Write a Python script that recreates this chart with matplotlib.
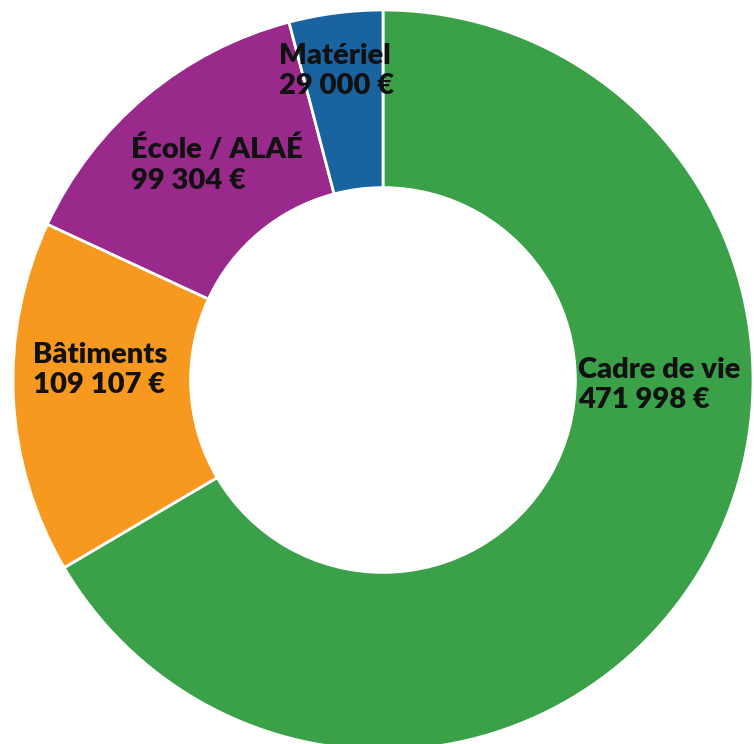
import matplotlib.pyplot as plt

labels = ["Cadre de vie", "Bâtiments", "École / ALAÉ", "Matériel"]
values = [471998, 109107, 99304, 29000]
colors = ["#3aa149", "#f8991f", "#992a8c", "#1863a0"]

# label anchor (left edge, middle of the two lines), in pie units
label_pos = [(0.527, -0.013), (-0.946, 0.028), (-0.681, 0.581), (-0.281, 0.835)]


def fmt(v):
    return f"{v:,}".replace(",", " ") + " €"


fig = plt.figure(figsize=(7.54, 7.44), dpi=100)
ax = fig.add_axes([0, 0, 1, 1])

ax.pie(values, colors=colors, startangle=90, counterclock=False,
       radius=1.0, wedgeprops=dict(width=0.48, edgecolor="white", linewidth=2))

for name, v, (x, y) in zip(labels, values, label_pos):
    ax.text(x, y, name + "\n" + fmt(v), ha="left", va="center",
            fontsize=21, fontweight="heavy", family="Lato", color="#111111",
            linespacing=1.2)

ax.set_xlim(-383 / 370, (754 - 383) / 370)
ax.set_ylim(-364 / 370, 380 / 370)
ax.set_aspect("equal")
ax.axis("off")

fig.savefig("out.png", dpi=100)
